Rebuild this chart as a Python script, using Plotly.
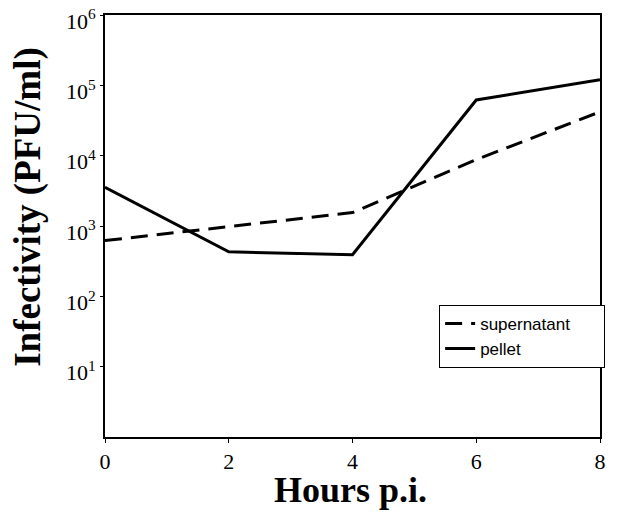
import plotly.graph_objects as go

hours = [0, 2, 4, 6, 8]
supernatant = [620, 980, 1550, 8800, 42000]
pellet = [3560, 430, 390, 62000, 120000]

x_ticks = [0, 2, 4, 6, 8]
y_tickvals = [10, 100, 1000, 10000, 100000, 1000000]
y_ticktext = ["10<sup>1</sup>", "10<sup>2</sup>", "10<sup>3</sup>", "10<sup>4</sup>", "10<sup>5</sup>", "10<sup>6</sup>"]
series_names = ["supernatant", "pellet"]

pad = "\u00a0" * 6
fig = go.Figure()
fig.add_trace(go.Scatter(x=hours, y=supernatant, mode="lines", name=series_names[0] + pad,
                         line=dict(color="black", width=3, dash="17px,9px")))
fig.add_trace(go.Scatter(x=hours, y=pellet, mode="lines", name=series_names[1],
                         line=dict(color="black", width=3)))

serif = "Liberation Serif, Times New Roman, serif"
fig.update_layout(
    width=637, height=512,
    margin=dict(l=105, r=37, t=15, b=75, autoexpand=False),
    plot_bgcolor="white", paper_bgcolor="white",
    showlegend=True,
    legend=dict(x=0.675, y=0.313, xanchor="left", yanchor="top",
                bordercolor="black", borderwidth=1, bgcolor="white",
                font=dict(family="Liberation Sans, Arial, sans-serif", size=17, color="black"),
                tracegroupgap=0, itemwidth=30),
    xaxis=dict(range=[0, 8], tickvals=x_ticks, ticks="outside", ticklen=4, tickcolor="black",
               showline=True, linecolor="black", linewidth=2, mirror=True, showgrid=False,
               zeroline=False, automargin=False,
               tickfont=dict(family=serif, size=22, color="black")),
    yaxis=dict(type="log", range=[0, 6], tickvals=y_tickvals, ticktext=y_ticktext,
               ticks="outside", ticklen=3, tickcolor="black", ticklabelshift=6,
               showline=True, linecolor="black", linewidth=2, mirror=True, showgrid=False,
               zeroline=False, automargin=False,
               tickfont=dict(family=serif, size=22, color="black")),
    annotations=[
        dict(text="<b>Hours p.i.</b>", xref="paper", yref="paper", x=0.495, y=-0.126,
             xanchor="center", yanchor="middle", showarrow=False,
             font=dict(family=serif, size=36, color="black")),
        dict(text="<b>Infectivity (PFU/ml)</b>", xref="paper", yref="paper", x=-0.156, y=0.545,
             xanchor="center", yanchor="middle", textangle=-90, showarrow=False,
             font=dict(family=serif, size=37, color="black")),
    ],
)

fig.write_html("out.html", post_script="document.body.style.margin='0';",
               config={"displayModeBar": False})
